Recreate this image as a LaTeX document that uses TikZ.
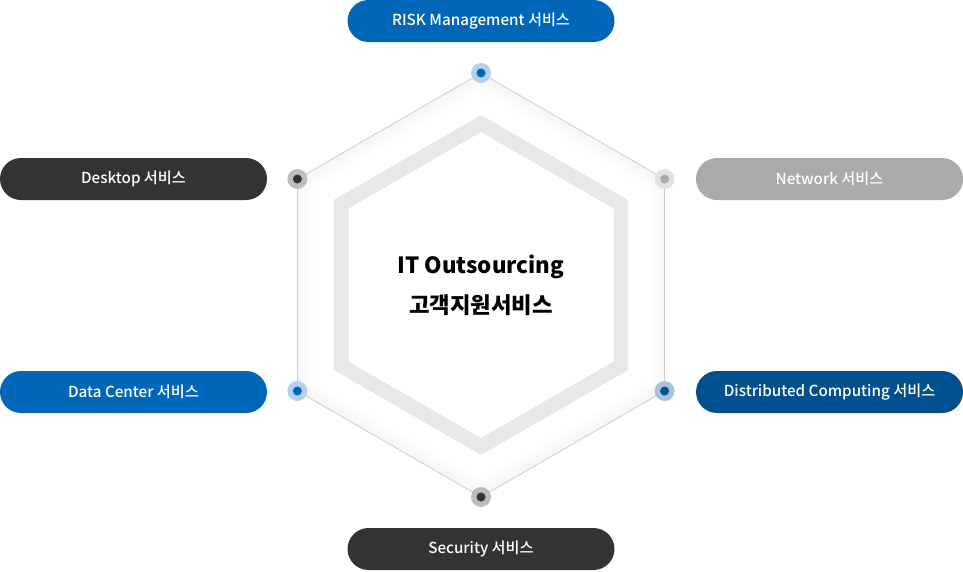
\documentclass[tikz,border=0pt]{standalone}
\usepackage{fontspec}
\setmainfont{Noto Sans CJK KR}
\newfontfamily\pillfont{Noto Sans CJK KR Medium}
\definecolor{svcblue}{HTML}{0067B8}
\definecolor{svcnavy}{HTML}{00508F}
\definecolor{svcdark}{HTML}{333333}
\definecolor{svcgray}{HTML}{AAAAAA}
\definecolor{ringblue}{HTML}{B3D1EC}
\definecolor{ringnavy}{HTML}{A9C3DB}
\definecolor{ringdark}{HTML}{BDBDBD}
\definecolor{ringgray}{HTML}{E2E2E2}
\definecolor{bandgray}{HTML}{E8E8E8}
\begin{document}
\begin{tikzpicture}[x=1pt,y=-1pt,
                    pill/.style={rectangle,rounded corners=21pt,minimum width=267pt,minimum height=42pt,
                                 inner sep=0pt,text=white,font=\pillfont\fontsize{15.2}{17}\selectfont},
                    ring/.style={circle,inner sep=0pt,minimum size=20pt},
                    core/.style={circle,inner sep=0pt,minimum size=9pt}
                  ]
                  \useasboundingbox (0,0) rectangle (963,571);
                  \coordinate (c) at (481,285);

                  % soft shade inside the outer hexagon
                  \begin{scope}[shift={(c)}]
                      \foreach \i [evaluate=\i as \r using 211.5-\i, evaluate=\i as \op using 0.028*(1-\i/24)^1.5] in {0,...,23} {
                          \draw[black,opacity=\op,line width=1.1pt,line join=miter]
                            (-90:\r) -- (-30:\r) -- (30:\r) -- (90:\r) -- (150:\r) -- (210:\r) -- cycle;
                        }
                      \draw[black!20,line width=0.8pt]
                        (-90:212) -- (-30:212) -- (30:212) -- (90:212) -- (150:212) -- (210:212) -- cycle;
                      \fill[bandgray,even odd rule]
                        (-90:170) -- (-30:170) -- (30:170) -- (90:170) -- (150:170) -- (210:170) -- cycle
                        (-90:153) -- (-30:153) -- (30:153) -- (90:153) -- (150:153) -- (210:153) -- cycle;
                  \end{scope}

                  \node[align=center,font=\fontsize{22.3}{40}\selectfont\bfseries] (title) at (c) {IT Outsourcing\\고객지원서비스};

                  % vertex dots
                  \foreach \name/\ang/\rc/\cc in {risk/-90/ringblue/svcblue, net/-30/ringgray/svcgray,
                                                  dist/30/ringnavy/svcnavy, sec/90/ringdark/svcdark,
                                                  data/150/ringblue/svcblue, desk/210/ringdark/svcdark} {
                      \node[ring,fill=\rc] (v\name) at ([shift={(\ang:212)}]c) {};
                      \node[core,fill=\cc] at (v\name) {};
                    }

                  % service labels
                  \node[pill,fill=svcblue] (risk) at (481,21) {RISK Management 서비스};
                  \node[pill,fill=svcdark] (desk) at (133.5,179) {Desktop 서비스};
                  \node[pill,fill=svcgray] (net) at (829.5,179) {Network 서비스};
                  \node[pill,fill=svcblue] (data) at (133.5,392) {Data Center 서비스};
                  \node[pill,fill=svcnavy] (dist) at (829.5,392) {Distributed Computing 서비스};
                  \node[pill,fill=svcdark] (sec) at (481,549) {Security 서비스};
                \end{tikzpicture}
\end{document}
